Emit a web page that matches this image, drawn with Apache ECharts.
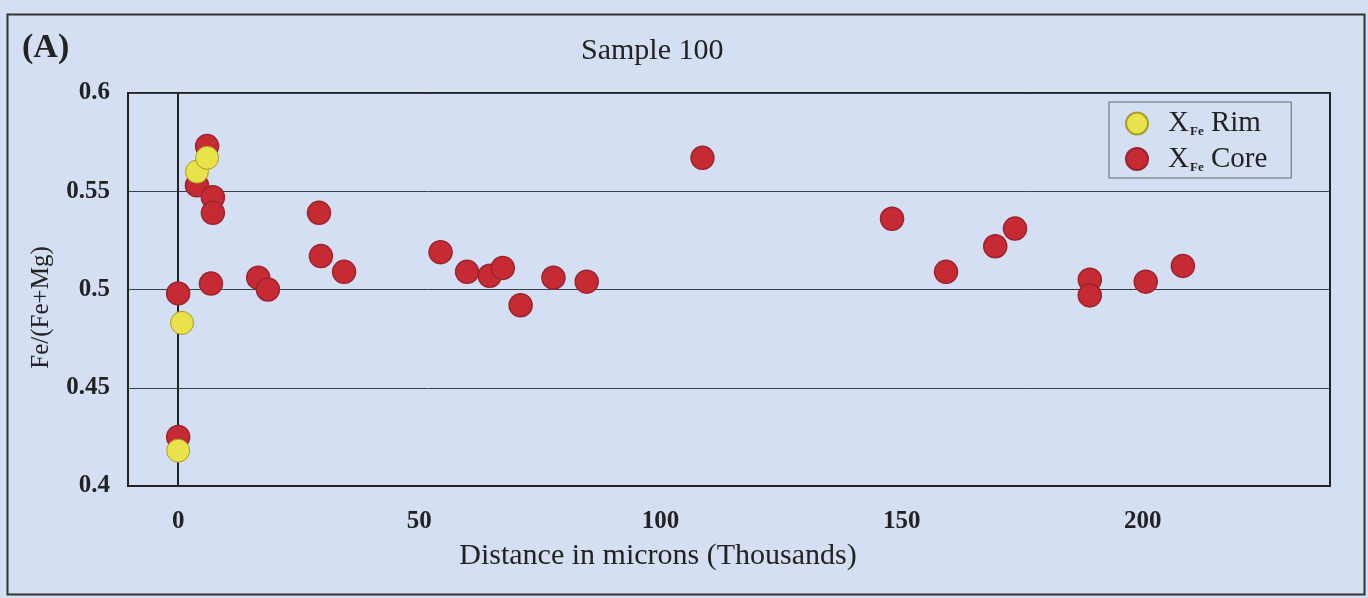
<!DOCTYPE html>
<html>
<head>
<meta charset="utf-8">
<script src="https://cdn.jsdelivr.net/npm/echarts@6/dist/echarts.min.js"></script>
<style>
html,body{margin:0;padding:0;background:#d4dff3;}
#chart{width:1368px;height:598px;}
</style>
</head>
<body>
<div id="chart"></div>
<script>
// ---- data ----
const rimX = [0, 0.8, 3.9, 6.0];
const rimY = [0.418, 0.483, 0.560, 0.567];
const coreX = [0, 0, 3.9, 6.0, 7.2, 7.2, 6.8, 16.6, 18.6, 29.2, 29.6, 34.4, 54.4, 59.9, 64.6, 67.3, 71.0, 77.8, 84.7, 108.7, 148.0, 159.2, 169.4, 173.5, 189.0, 189.0, 200.6, 208.3];
const coreY = [0.425, 0.498, 0.553, 0.573, 0.547, 0.539, 0.503, 0.506, 0.500, 0.539, 0.517, 0.509, 0.519, 0.509, 0.507, 0.511, 0.492, 0.506, 0.504, 0.567, 0.536, 0.509, 0.522, 0.531, 0.505, 0.497, 0.504, 0.512];
const xTicks = [0, 50, 100, 150, 200];
const yTicks = [0.4, 0.45, 0.5, 0.55, 0.6];
const seriesNames = ['Rim', 'Core'];
const chartTitle = 'Sample 100';
const panelLabel = '(A)';
const xName = 'Distance in microns (Thousands)';
const yName = 'Fe/(Fe+Mg)';

const serif = '"Liberation Serif", "Times New Roman", serif';
const zip = (a, b) => a.map((v, i) => [v, b[i]]);

const chart = echarts.init(document.getElementById('chart'));
chart.setOption({
  backgroundColor: '#d4dff3',
  animation: false,
  textStyle: { fontFamily: serif, color: '#222' },
  title: [
    { text: chartTitle, left: 576, top: 31, textStyle: { fontFamily: serif, fontSize: 30, fontWeight: 'normal', color: '#222' } },
    { text: panelLabel, left: 17, top: 26, textStyle: { fontFamily: serif, fontSize: 34, fontWeight: 'bold', color: '#222' } }
  ],
  graphic: [
    { type: 'rect', left: 5, top: 12, shape: { width: 1357, height: 580 }, style: { fill: 'none', stroke: '#333', lineWidth: 2 }, silent: true }
  ],
  legend: {
    orient: 'vertical',
    left: 1109,
    top: 102,
    padding: [7, 24, 4, 16],
    itemGap: 6,
    itemWidth: 22,
    itemHeight: 22,
    icon: 'circle',
    borderColor: '#666',
    borderWidth: 1,
    backgroundColor: '#d4dff3',
    data: seriesNames,
    formatter: n => '{x|X}{s|Fe}{t| ' + n + '}',
    textStyle: {
      rich: {
        x: { fontFamily: serif, fontSize: 29, color: '#222', lineHeight: 30, padding: [0, 0, 0, 15] },
        s: { fontFamily: serif, fontSize: 13, fontWeight: 'bold', color: '#222', lineHeight: 13, verticalAlign: 'bottom', padding: [12, 0, 0, 1] },
        t: { fontFamily: serif, fontSize: 29, color: '#222', lineHeight: 30 }
      }
    }
  },
  grid: {
    left: 128, right: 38, top: 93, bottom: 112,
    show: true, borderColor: '#222', borderWidth: 2, backgroundColor: 'transparent'
  },
  xAxis: {
    type: 'value',
    min: -10.4, max: 238.8,
    name: xName,
    nameLocation: 'middle',
    nameGap: 55,
    nameTextStyle: { fontFamily: serif, fontSize: 30, color: '#222', padding: [0, 142, 0, 0] },
    axisLine: { show: true, onZero: false, lineStyle: { color: '#222', width: 2 } },
    axisTick: { show: false },
    splitLine: { show: false },
    axisLabel: {
      customValues: xTicks,
      margin: 23,
      fontFamily: serif, fontSize: 25, fontWeight: 'bold', color: '#222'
    }
  },
  yAxis: {
    type: 'value',
    min: 0.4, max: 0.6, interval: 0.05,
    name: yName,
    nameLocation: 'middle',
    nameGap: 74,
    nameTextStyle: { fontFamily: serif, fontSize: 25, color: '#222', padding: [0, 36, 0, 0] },
    axisLine: { show: true, onZero: false, lineStyle: { color: '#222', width: 2 } },
    axisTick: { show: false },
    splitLine: { show: true, lineStyle: { color: '#3a3f4a', width: 1 } },
    axisLabel: {
      customValues: yTicks,
      margin: 18,
      fontFamily: serif, fontSize: 25, fontWeight: 'bold', color: '#222',
      formatter: v => String(+v.toFixed(2))
    }
  },
  series: [
    {
      name: seriesNames[0],
      type: 'scatter',
      symbolSize: 23,
      data: zip(rimX, rimY),
      itemStyle: { color: '#e9e24a', borderColor: '#a89d2a', borderWidth: 1, opacity: 1 },
      markLine: {
        silent: true,
        symbol: 'none',
        label: { show: false },
        lineStyle: { color: '#222', width: 2, type: 'solid' },
        data: [{ xAxis: 0 }],
        z: 1
      },
      z: 4
    },
    {
      name: seriesNames[1],
      type: 'scatter',
      symbolSize: 23,
      data: zip(coreX, coreY),
      itemStyle: { color: '#c62a33', borderColor: '#9a2430', borderWidth: 1.5, opacity: 1 },
      z: 3
    }
  ]
});
</script>
</body>
</html>
